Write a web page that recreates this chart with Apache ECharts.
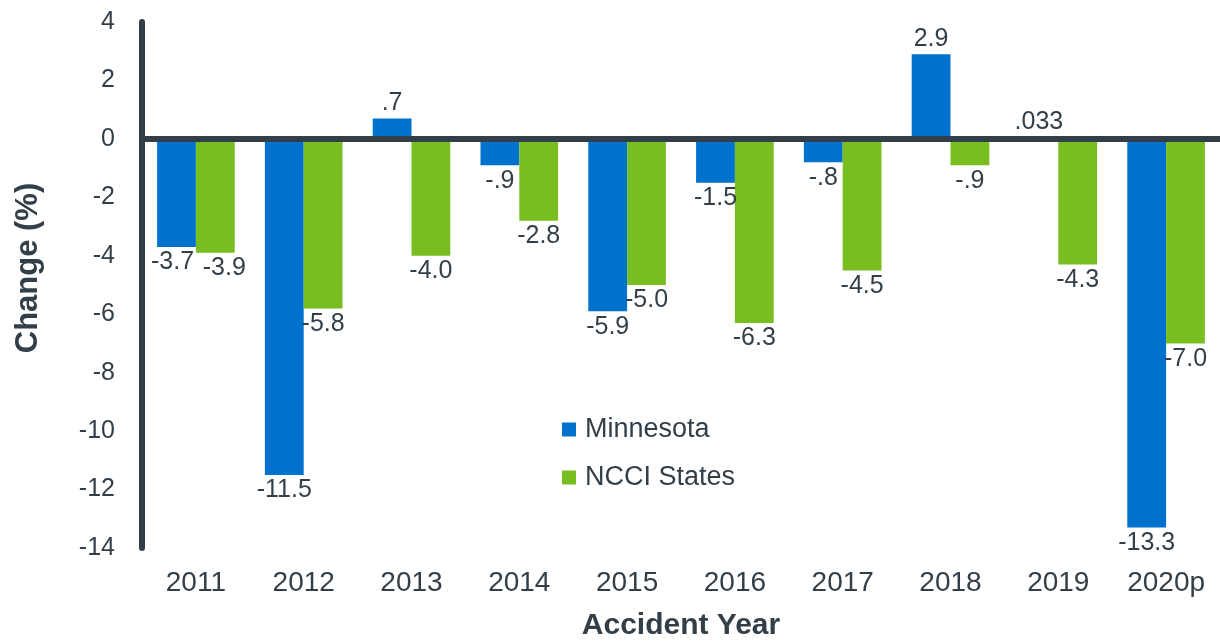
<!DOCTYPE html>
<html>
<head>
<meta charset="utf-8">
<script src="https://cdn.jsdelivr.net/npm/echarts@6/dist/echarts.min.js"></script>
<style>
  html, body { margin: 0; padding: 0; background: #fff; }
  #main { width: 1220px; height: 641px; }
</style>
</head>
<body>
<div id="main"></div>
<script>
var years = ['2011', '2012', '2013', '2014', '2015', '2016', '2017', '2018', '2019', '2020p'];
var minnesota = [-3.7, -11.5, 0.7, -0.9, -5.9, -1.5, -0.8, 2.9, 0.033, -13.3];
var ncci = [-3.9, -5.8, -4.0, -2.8, -5.0, -6.3, -4.5, -0.9, -4.3, -7.0];
var minnesotaLabels = ['-3.7', '-11.5', '.7', '-.9', '-5.9', '-1.5', '-.8', '2.9', '.033', '-13.3'];
var ncciLabels = ['-3.9', '-5.8', '-4.0', '-2.8', '-5.0', '-6.3', '-4.5', '-.9', '-4.3', '-7.0'];

var textColor = '#333f48';
var fontFamily = '"Liberation Sans", Arial, sans-serif';

// nudge the two 2011 labels apart, they touch otherwise
var labelNudge = { 'Minnesota': { 0: [-4, 0] }, 'NCCI States': { 0: [9, 0] } };

// label goes under negative bars, over positive ones
function toItems(name, values){
    return values.map(function(v, i){
        var lab = { position: v < 0 ? 'bottom' : 'top' };
        if(labelNudge[name][i]) lab.offset = labelNudge[name][i];
        return { value: v, label: lab };
    });
}

var chart = echarts.init(document.getElementById('main'));

var option = {
    animation: false,
    textStyle: { fontFamily: fontFamily, color: textColor },
    grid: { left: 142, right: 0, top: 22, bottom: 93, outerBoundsMode: 'none', containLabel: false },
    legend: {
        orient: 'vertical',
        left: 557,
        top: 411,
        itemWidth: 14,
        itemHeight: 14,
        itemGap: 21,
        icon: 'rect',
        textStyle: { fontSize: 27, color: textColor, fontFamily: fontFamily, padding: [0, 0, 0, 4] },
        data: ['Minnesota', 'NCCI States']
    },
    graphic: [{
        type: 'text',
        x: 28,
        y: 268,
        rotation: Math.PI / 2,
        style: {
            text: 'Change (%)',
            fontSize: 31,
            fontWeight: 'bold',
            fontFamily: fontFamily,
            fill: textColor,
            align: 'center',
            verticalAlign: 'middle'
        }
    }],
    xAxis: {
        type: 'category',
        data: years,
        axisLine: { show: false, onZero: false },
        axisTick: { show: false },
        axisLabel: { fontSize: 28, color: textColor, margin: 21, fontFamily: fontFamily },
        name: 'Accident Year',
        nameLocation: 'middle',
        nameGap: 63,
        nameTextStyle: { fontSize: 30, fontWeight: 'bold', color: textColor, fontFamily: fontFamily }
    },
    yAxis: {
        type: 'value',
        min: -14,
        max: 4,
        interval: 2,
        axisLine: { show: true, lineStyle: { color: textColor, width: 6 } },
        axisTick: { show: false },
        splitLine: { show: false },
        axisLabel: { fontSize: 25, color: textColor, margin: 27, fontFamily: fontFamily }
    },
    series: [
        {
            name: 'Minnesota',
            type: 'bar',
            data: toItems('Minnesota', minnesota),
            barWidth: '36%',
            barGap: '0%',
            itemStyle: { color: '#0072ce' },
            label: {
                show: true,
                distance: 3,
                fontSize: 25,
                color: textColor,
                fontFamily: fontFamily,
                formatter: function(p){ return minnesotaLabels[p.dataIndex]; }
            },
            markLine: {
                silent: true,
                symbol: 'none',
                label: { show: false },
                lineStyle: { color: textColor, width: 6, type: 'solid' },
                data: [{ yAxis: 0 }]
            }
        },
        {
            name: 'NCCI States',
            type: 'bar',
            data: toItems('NCCI States', ncci),
            barWidth: '36%',
            barGap: '0%',
            itemStyle: { color: '#78be20' },
            label: {
                show: true,
                distance: 3,
                fontSize: 25,
                color: textColor,
                fontFamily: fontFamily,
                formatter: function(p){ return ncciLabels[p.dataIndex]; }
            }
        }
    ]
};

chart.setOption(option);
</script>
</body>
</html>
